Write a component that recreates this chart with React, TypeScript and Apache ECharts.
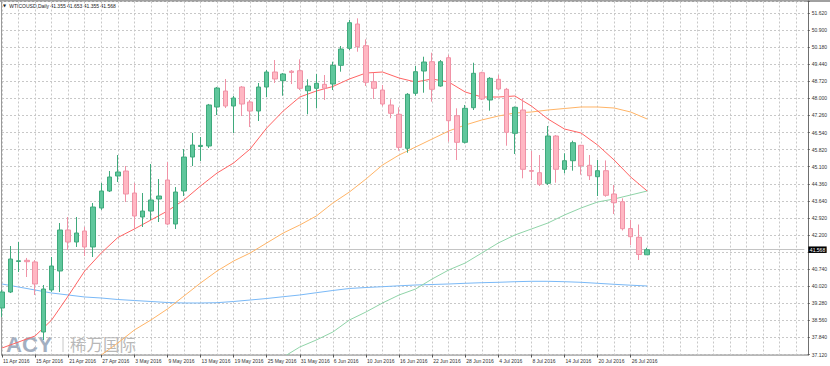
import React, { useEffect, useRef } from "react";
import * as echarts from "echarts";

// ---- data ----
const dates = [
  "11 Apr 2016", "12 Apr 2016", "13 Apr 2016", "14 Apr 2016", "15 Apr 2016",
  "18 Apr 2016", "19 Apr 2016", "20 Apr 2016", "21 Apr 2016", "22 Apr 2016",
  "25 Apr 2016", "26 Apr 2016", "27 Apr 2016", "28 Apr 2016", "29 Apr 2016",
  "2 May 2016", "3 May 2016", "4 May 2016", "5 May 2016", "6 May 2016",
  "9 May 2016", "10 May 2016", "11 May 2016", "12 May 2016", "13 May 2016",
  "16 May 2016", "17 May 2016", "18 May 2016", "19 May 2016", "20 May 2016",
  "23 May 2016", "24 May 2016", "25 May 2016", "26 May 2016", "27 May 2016",
  "30 May 2016", "31 May 2016", "1 Jun 2016", "2 Jun 2016", "3 Jun 2016",
  "6 Jun 2016", "7 Jun 2016", "8 Jun 2016", "9 Jun 2016", "10 Jun 2016",
  "13 Jun 2016", "14 Jun 2016", "15 Jun 2016", "16 Jun 2016", "17 Jun 2016",
  "20 Jun 2016", "21 Jun 2016", "22 Jun 2016", "23 Jun 2016", "24 Jun 2016",
  "27 Jun 2016", "28 Jun 2016", "29 Jun 2016", "30 Jun 2016", "1 Jul 2016",
  "4 Jul 2016", "5 Jul 2016", "6 Jul 2016", "7 Jul 2016", "8 Jul 2016",
  "11 Jul 2016", "12 Jul 2016", "13 Jul 2016", "14 Jul 2016", "15 Jul 2016",
  "18 Jul 2016", "19 Jul 2016", "20 Jul 2016", "21 Jul 2016", "22 Jul 2016",
  "25 Jul 2016", "26 Jul 2016", "27 Jul 2016", "28 Jul 2016",
];

// [open, close, low, high]
const candles = [
  [39.095, 39.774, 38.712, 39.85], [39.774, 41.175, 39.73, 41.727], [41.07, 41.1, 40.623, 41.897],
  [41.12, 41.06, 40.411, 41.22], [41.048, 40.114, 39.647, 41.13], [38.075, 39.901, 37.736, 40.071],
  [39.859, 40.878, 39.78, 41.26], [40.666, 42.407, 39.774, 42.704], [42.407, 41.897, 41.557, 42.959],
  [41.897, 42.279, 41.685, 42.959], [42.364, 41.685, 41.303, 42.534], [41.685, 43.383, 41.26, 43.553],
  [43.341, 44.063, 43.26, 44.402], [44.063, 44.657, 44.02, 44.912], [44.7, 44.87, 44.445, 45.591],
  [44.912, 43.935, 43.596, 45.124], [43.977, 43.001, 42.449, 44.402], [42.959, 43.213, 42.534, 43.977],
  [43.213, 43.681, 42.831, 45.209], [43.723, 43.85, 42.746, 44.572], [44.53, 42.661, 42.62, 45.294],
  [42.661, 44.02, 42.449, 44.23], [44.063, 45.506, 43.85, 45.846], [45.506, 46.016, 45.124, 46.526],
  [45.952, 46.0, 45.337, 46.356], [45.974, 47.715, 45.89, 47.76], [47.63, 48.436, 47.29, 48.48],
  [48.309, 47.672, 47.587, 48.819], [47.672, 48.012, 46.526, 48.1], [48.478, 47.757, 47.247, 48.52],
  [47.842, 47.46, 46.78, 47.93], [47.46, 48.478, 47.035, 48.649], [48.478, 49.116, 48.054, 49.2],
  [49.116, 48.819, 48.649, 49.625], [48.747, 49.031, 48.109, 49.07], [49.15, 49.1, 48.606, 49.2],
  [49.171, 48.424, 48.351, 49.655], [48.322, 48.521, 47.32, 48.806], [48.424, 48.636, 47.574, 49.031],
  [48.593, 48.424, 47.927, 48.988], [48.606, 49.4, 48.351, 49.553], [49.4, 50.092, 49.129, 50.22],
  [50.122, 51.209, 50.05, 51.324], [51.154, 50.19, 49.978, 51.396], [50.233, 48.678, 48.521, 50.504],
  [48.704, 48.424, 47.969, 49.086], [48.351, 47.757, 47.672, 48.564], [47.715, 47.362, 47.15, 47.957],
  [47.32, 45.918, 45.774, 47.617], [45.876, 48.169, 45.689, 48.22], [48.211, 49.129, 48.109, 49.371],
  [49.158, 49.54, 48.237, 49.765], [49.553, 48.381, 47.855, 49.935], [48.521, 49.553, 48.49, 49.625],
  [49.723, 47.048, 46.156, 49.838], [47.26, 46.131, 45.379, 47.574], [46.131, 47.574, 46.08, 47.715],
  [47.6, 49.061, 47.502, 49.511], [49.086, 47.969, 47.927, 49.129], [47.927, 48.848, 47.472, 48.9],
  [48.806, 48.394, 48.351, 48.988], [48.381, 46.555, 45.986, 48.44], [46.513, 47.617, 45.634, 47.65],
  [47.502, 44.984, 44.602, 47.999], [44.93, 44.9, 44.53, 45.761], [44.84, 44.347, 44.275, 45.591],
  [44.39, 46.398, 44.317, 46.823], [46.398, 44.984, 44.415, 46.44], [44.984, 45.349, 44.814, 45.664],
  [45.349, 46.114, 44.925, 46.199], [46.003, 45.137, 44.755, 46.02], [45.154, 44.712, 44.53, 45.591],
  [44.67, 44.925, 43.85, 45.379], [44.925, 43.88, 43.82, 45.36], [43.935, 43.566, 43.086, 44.317],
  [43.608, 42.462, 42.385, 43.753], [42.47, 42.122, 41.77, 42.831], [42.097, 41.366, 41.133, 42.64],
  [41.355, 41.568, 41.355, 41.653],
];

// moving averages, read at every second bar (first reading at bar index given by *Start)
const maRedStart = 0;
const maRed = [
  37.396, 37.651, 37.906, 38.585, 39.604, 40.666, 41.43, 42.088, 42.449, 42.831,
  43.213, 43.681, 44.275, 44.827, 45.252, 45.846, 46.738, 47.46, 48.054, 48.309,
  48.5, 48.819, 49.073, 49.116, 48.861, 48.691, 48.819, 48.691, 48.267, 48.054,
  48.054, 48.097, 47.672, 47.12, 46.695, 46.526, 46.016, 45.379, 44.657, 44.063,
];
const maOrangeStart = 10;
const maOrange = [
  36.6, 37.099, 37.608, 38.16, 38.585, 39.052, 39.604, 40.156, 40.666, 41.09,
  41.43, 41.855, 42.279, 42.619, 43.001, 43.553, 44.02, 44.572, 45.167, 45.591,
  45.931, 46.271, 46.61, 46.865, 47.078, 47.247, 47.375, 47.417, 47.502, 47.566,
  47.63, 47.63, 47.587, 47.417, 47.12,
];
const maGreenStart = 34;
const maGreen = [
  37.01, 37.438, 37.736, 38.075, 38.585, 38.925, 39.307, 39.647, 39.901, 40.326,
  40.708, 41.005, 41.43, 41.855, 42.194, 42.449, 42.704, 43.044, 43.341, 43.596,
  43.723, 43.893, 44.063,
];
const maBlueStart = 0;
const maBlue = [
  40.114, 39.986, 39.859, 39.731, 39.647, 39.562, 39.519, 39.455, 39.413, 39.371,
  39.328, 39.307, 39.307, 39.32, 39.371, 39.434, 39.498, 39.574, 39.647, 39.744,
  39.838, 39.923, 39.965, 39.999, 40.037, 40.071, 40.092, 40.114, 40.143, 40.169,
  40.186, 40.211, 40.228, 40.228, 40.211, 40.186, 40.143, 40.101, 40.063, 40.029,
];

const yTickLabels = [
  "37.120", "37.840", "38.560", "39.280", "40.020", "40.740", "41.480", "42.200",
  "42.920", "43.640", "44.360", "45.100", "45.820", "46.540", "47.260", "48.000",
  "48.720", "49.440", "50.180", "50.900", "51.620",
];
const yMin = 37.12;
const yMax = 52.11;
const yStep = 0.725;

const lastPrice = 41.568;
const headerText = "WTICOUSD,Daily 41.355 41.653 41.355 41.568";
const futureSlots = 19;

const FONT = "'Liberation Sans', Arial, sans-serif";

export default function App() {
  const ref = useRef<HTMLDivElement>(null);

  useEffect(() => {
    document.body.style.margin = "0";
    const chart = echarts.init(ref.current as HTMLDivElement, null, { renderer: "svg" });

    const cats = [
      ...dates,
      ...Array.from({ length: futureSlots }, (_, i) => `next-${i + 1}`),
    ];
    const pairs = (arr: number[], start: number) => arr.map((v, k) => [start + 2 * k, v]);

    const gridLeft = 2;
    const barStep = 8.28;
    const gridRightEdge = gridLeft + (cats.length - 1) * barStep;
    const axisX = 808.5;

    const grid = "#c8c8c8";
    const lineSeries = (name: string, data: number[][], color: string) => ({
      name,
      type: "line",
      data,
      symbol: "none",
      showSymbol: false,
      clip: true,
      silent: true,
      lineStyle: { color, width: 1 },
      z: 3,
    });

    const option: any = {
      animation: false,
      textStyle: { fontFamily: FONT },
      grid: {
        left: gridLeft,
        right: 830 - gridRightEdge,
        top: 1.5,
        bottom: 11.5,
        containLabel: false,
      },
      xAxis: {
        type: "category",
        data: cats,
        boundaryGap: false,
        axisLine: { show: false },
        axisTick: {
          show: true,
          interval: (i: number) => i % 4 === 0 && i < dates.length,
          length: 3,
          lineStyle: { color: "#555" },
        },
        axisLabel: {
          interval: (i: number) => i % 4 === 0 && i < dates.length,
          fontSize: 5,
          fontFamily: FONT,
          color: "#333",
          align: "left",
          margin: 3.5,
          padding: [0, 0, 0, 1],
        },
        splitLine: {
          show: true,
          interval: (i: number) => i % 2 === 0,
          lineStyle: { color: grid, width: 1, type: [2, 2] },
        },
      },
      yAxis: {
        type: "value",
        position: "right",
        min: yMin,
        max: yMax,
        interval: yStep,
        offset: axisX - gridRightEdge,
        scale: true,
        axisLine: { show: false },
        axisTick: { show: true, length: 2, lineStyle: { color: "#555" } },
        axisLabel: {
          fontSize: 5,
          fontFamily: FONT,
          color: "#333",
          margin: 4,
          formatter: (v: number) => {
            const k = Math.round((v - yMin) / yStep);
            if (Math.abs(v - (yMin + k * yStep)) > 0.01) return "";
            // the tick hidden behind the current-price box in the reference
            if (Math.abs(v - lastPrice) < yStep / 2) return "";
            return yTickLabels[k] ?? "";
          },
        },
        splitLine: { show: true, lineStyle: { color: grid, width: 1, type: [2, 2] } },
      },
      series: [
        lineSeries("MA blue", pairs(maBlue, maBlueStart), "#7ab9f7"),
        lineSeries("MA green", pairs(maGreen, maGreenStart), "#8fd4a8"),
        lineSeries("MA orange", pairs(maOrange, maOrangeStart), "#ffb466"),
        lineSeries("MA red", pairs(maRed, maRedStart), "#ff6464"),
        {
          name: "WTICOUSD",
          type: "candlestick",
          data: candles,
          barWidth: 5,
          clip: true,
          silent: true,
          z: 4,
          itemStyle: {
            color: "#5fc79c",
            color0: "#ffb7c3",
            borderColor: "#3fa97c",
            borderColor0: "#f092a6",
            borderWidth: 1,
          },
          markLine: {
            silent: true,
            symbol: ["none", "none"],
            animation: false,
            data: [{ yAxis: lastPrice }],
            lineStyle: { color: "#c4c4c4", width: 1, type: "solid" },
            label: {
              show: true,
              position: "end",
              distance: 4,
              formatter: lastPrice.toFixed(3),
              backgroundColor: "#000",
              color: "#fff",
              fontSize: 5,
              fontFamily: FONT,
              padding: [1, 1.5, 0.5, 1.5],
            },
            z: 1,
          },
        },
      ],
      graphic: [
        // watermark
        {
          type: "text",
          z: -10,
          silent: true,
          style: {
            x: 6,
            y: 344,
            text: "ACY",
            fill: "#a3afc1",
            font: `bold 22px ${FONT}`,
            textVerticalAlign: "middle",
            verticalAlign: "middle",
          },
        },
        {
          type: "line",
          z: -10,
          silent: true,
          shape: { x1: 63, y1: 337, x2: 63, y2: 352 },
          style: { stroke: "#c8c8c8", lineWidth: 1 },
        },
        {
          type: "text",
          z: -10,
          silent: true,
          style: {
            x: 70,
            y: 344,
            text: "稀万国际",
            fill: "#b8b8b8",
            font: `16.5px 'Noto Sans CJK SC', sans-serif`,
            textVerticalAlign: "middle",
            verticalAlign: "middle",
          },
        },
        // frame
        {
          type: "line",
          silent: true,
          shape: { x1: 1.5, y1: 0.5, x2: 1.5, y2: 355.5 },
          style: { stroke: "#9a9a9a", lineWidth: 1 },
        },
        {
          type: "line",
          silent: true,
          shape: { x1: 0, y1: 1, x2: 830, y2: 1 },
          style: { stroke: "#a0a0a0", lineWidth: 2 },
        },
        {
          type: "line",
          silent: true,
          shape: { x1: axisX, y1: 0.5, x2: axisX, y2: 355.5 },
          style: { stroke: "#707070", lineWidth: 1 },
        },
        {
          type: "line",
          silent: true,
          shape: { x1: 1.5, y1: 355, x2: axisX, y2: 355 },
          style: { stroke: "#707070", lineWidth: 1 },
        },
        // header
        {
          type: "text",
          silent: true,
          style: {
            x: 3,
            y: 5.8,
            text: "▼",
            fill: "#222",
            font: `4px 'DejaVu Sans', sans-serif`,
            textVerticalAlign: "middle",
            verticalAlign: "middle",
          },
        },
        {
          type: "text",
          silent: true,
          style: {
            x: 9.3,
            y: 5.8,
            text: headerText,
            fill: "#222",
            font: `5px ${FONT}`,
            textVerticalAlign: "middle",
            verticalAlign: "middle",
          },
        },
      ],
    };

    chart.setOption(option);
    return () => chart.dispose();
  }, []);

  return <div ref={ref} style={{ width: 830, height: 366 }} />;
}
